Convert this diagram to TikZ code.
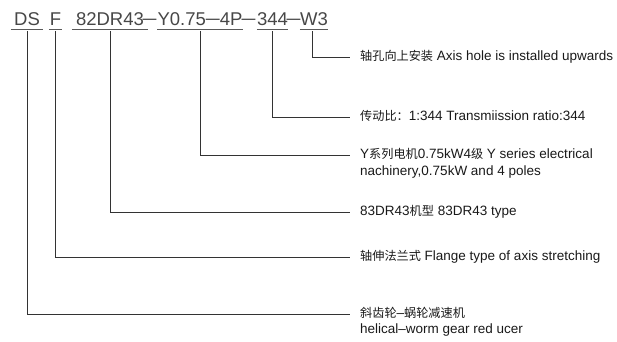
\documentclass[tikz,border=0pt]{standalone}
\usepackage{fontspec}
\setmainfont{Liberation Sans}
\newfontfamily\cjk{Noto Sans CJK SC}[Scale=0.9]
\newcommand\codedash{\raisebox{1.6pt}{\scalebox{1.35}[1]{–}}}
\begin{document}
\begin{tikzpicture}[x=1pt,y=-1pt,
  seg/.style={anchor=south, inner xsep=0pt, inner ysep=3.3pt, text depth=0pt, text height=13pt,
    font=\fontsize{18.5}{20}\selectfont, text=black!72},
  cdash/.style={anchor=base, inner sep=0pt, font=\fontsize{18.5}{20}\selectfont, text=black!72},
  lab/.style={anchor=west, inner sep=0pt, text height=9.5pt, text depth=2.5pt,
    font=\fontsize{13.5}{17}\selectfont, text=black!90},
  uline/.style={draw=black!65, line width=0.7pt},
  conn/.style={draw=black!80, line width=0.75pt, shorten <=2pt, shorten >=10pt}]
\useasboundingbox (0,0) rectangle (617,341);
% code segments
\node[seg, minimum width=32pt] (s1) at (27,29.3) {DS};
\node[seg, minimum width=13pt] (s2) at (55.5,29.3) {F};
\node[seg, minimum width=76pt] (s3) at (110,29.3) {82DR43};
\node[seg, minimum width=84pt] (s4) at (200,29.3) {Y0.75\codedash4P};
\node[seg, minimum width=31pt] (s5) at (272.5,29.3) {344};
\node[seg, minimum width=28pt] (s6) at (314,29.3) {W3};
\node[cdash] (d1) at (149.5,26) {\codedash};
\node[cdash] (d2) at (248.5,26) {\codedash};
\node[cdash] (d3) at (293.5,26) {\codedash};
\foreach \s in {s1,s2,s3,s4,s5,s6}
  \draw[uline] (\s.south west) -- (\s.south east);
% labels
\node[lab] (l1) at (360,57) {{\cjk 轴孔向上安装} Axis hole is installed upwards};
\node[lab] (l2) at (360,117) {{\cjk 传动比：}1:344 Transmiission ratio:344};
\node[lab] (l3) at (360,155) {Y{\cjk 系列电机}0.75kW4{\cjk 级} Y series electrical};
\node[lab] (l3b) at (360,172) {nachinery,0.75kW and 4 poles};
\node[lab] (l4) at (360,212) {83DR43{\cjk 机型} 83DR43 type};
\node[lab] (l5) at (360,257) {{\cjk 轴伸法兰式} Flange type of axis stretching};
\node[lab] (l6) at (360,314) {{\cjk 斜齿轮}–{\cjk 蜗轮减速机}};
\node[lab] (l6b) at (360,329.5) {helical–worm gear red ucer};
% connectors
\draw[conn] ([xshift=-1.7pt]s6.south) |- (l1.west);
\draw[conn] (s5.south) |- (l2.west);
\draw[conn] (s4.south) |- (l3.west);
\draw[conn] (s3.south) |- (l4.west);
\draw[conn] (s2.south) |- (l5.west);
\draw[conn] (s1.south) |- (l6.west);
\end{tikzpicture}
\end{document}
